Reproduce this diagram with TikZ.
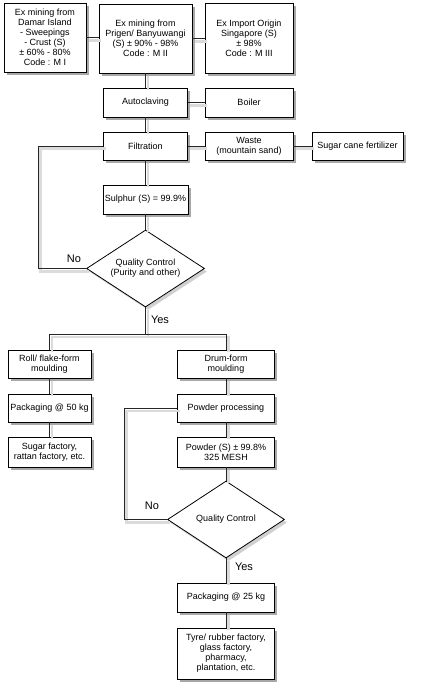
\documentclass[tikz,border=0pt]{standalone}
\usepackage{fontspec}
\setmainfont{Liberation Sans}
\usetikzlibrary{shapes.geometric,shadows}
\begin{document}
\begin{tikzpicture}[x=1pt,y=-1pt,
  shad/.style={drop shadow={shadow xshift=2.5pt, shadow yshift=-3pt, fill=black!45, opacity=0.75}},
  box/.style={draw=black, line width=0.8pt, fill=white, align=center, inner sep=1pt,
    font=\fontsize{9}{10}\selectfont, shad},
  dia/.style={diamond, draw=black, line width=0.8pt, fill=white, align=center, inner sep=0pt,
    aspect=1.53, minimum width=118pt, minimum height=77pt,
    font=\fontsize{9}{10}\selectfont,
    drop shadow={shadow xshift=2.5pt, shadow yshift=-3pt, fill=black!30, opacity=0.6}},
  conn/.style={draw=black!85, line width=0.7pt,
    preaction={draw=black!14, line width=2.6pt, transform canvas={xshift=2.5pt,yshift=-2.8pt}}},
  lab/.style={font=\fontsize{11}{13}\selectfont, inner sep=0pt}]
\useasboundingbox[fill=white] (0,0) rectangle (425,700);

% connector helper coordinates
\coordinate (split) at (145.5,334);
\coordinate (l1) at (38,146);
\coordinate (l2) at (124,408);

% top row
\node[box, minimum width=82pt, minimum height=69pt] (m1) at (45,37.5)
  {Ex mining from\\Damar Island\\- Sweepings\\- Crust (S)\\± 60\% - 80\%\\Code : M I};
\node[box, minimum width=93pt, minimum height=69pt] (m2) at (145.5,38.5)
  {Ex mining from\\Prigen/ Banyuwangi\\(S) ± 90\% - 98\%\\Code : M II};
\node[box, minimum width=88pt, minimum height=70pt] (m3) at (249,38)
  {Ex Import Origin\\Singapore (S)\\± 98\%\\Code : M III};

\node[box, minimum width=84pt, minimum height=29pt] (auto) at (145.5,102.5) {Autoclaving};
\node[box, minimum width=88pt, minimum height=29pt] (boil) at (249,102.5) {Boiler};

\node[box, minimum width=84pt, minimum height=28pt] (filt) at (145.5,146) {Filtration};
\node[box, minimum width=88pt, minimum height=28pt] (waste) at (249,146) {Waste\\(mountain sand)};
\node[box, minimum width=91pt, minimum height=28pt] (cane) at (357.5,146) {Sugar cane fertilizer};

\node[box, minimum width=85pt, minimum height=29pt] (sulph) at (145.5,199.5) {Sulphur (S) = 99.9\%};

\node[dia] (qc1) at (145.5,268.5) {Quality Control\\(Purity and other)};

% left branch
\node[box, minimum width=83pt, minimum height=28pt] (roll) at (49.5,364) {Roll/ flake-form\\moulding};
\node[box, minimum width=83pt, minimum height=28pt] (p50) at (49.5,408) {Packaging @ 50 kg};
\node[box, minimum width=83pt, minimum height=30pt] (sugf) at (49.5,452) {Sugar factory,\\rattan factory, etc.};

% right branch
\node[box, minimum width=97pt, minimum height=28pt] (drum) at (226,364) {Drum-form\\moulding};
\node[box, minimum width=97pt, minimum height=28pt] (pp) at (226,408) {Powder processing};
\node[box, minimum width=97pt, minimum height=30pt] (pows) at (226,452) {Powder (S) ± 99.8\%\\325 MESH};
\node[dia, minimum width=117pt] (qc2) at (226,519.5) {Quality Control};
\node[box, minimum width=97pt, minimum height=29pt] (p25) at (226,597.5) {Packaging @ 25 kg};
\node[box, minimum width=97pt, minimum height=51pt] (tyre) at (226,653.5)
  {Tyre/ rubber factory,\\glass factory,\\pharmacy,\\plantation, etc.};

% labels
\node[lab] (no1) at (74,259) {No};
\node[lab] (yes1) at (160,320) {Yes};
\node[lab] (no2) at (152,506) {No};
\node[lab] (yes2) at (244,567) {Yes};

% connectors
\draw[conn] (m1.east) -- (m1.east -| m2.west);
\draw[conn] (m2.east) -- (m2.east -| m3.west);
\draw[conn] (m2.south) -- (auto.north);
\draw[conn] (auto.east) -- (boil.west);
\draw[conn] (auto.south) -- (filt.north);
\draw[conn] (filt.east) -- (waste.west);
\draw[conn] (waste.east) -- (cane.west);
\draw[conn] (filt.south) -- (sulph.north);
\draw[conn] (sulph.south) -- (qc1.north);
\draw[conn] (filt.west) -- (l1) |- (qc1.west);
\draw[conn] (qc1.south) -- (split);
\draw[conn] (roll.north) -- (roll.north |- split) -- (split -| drum.north) -- (drum.north);
\draw[conn] (roll.south) -- (p50.north);
\draw[conn] (p50.south) -- (sugf.north);
\draw[conn] (drum.south) -- (pp.north);
\draw[conn] (pp.south) -- (pows.north);
\draw[conn] (pows.south) -- (qc2.north);
\draw[conn] (pp.west) -- (l2) |- (qc2.west);
\draw[conn] (qc2.south) -- (p25.north);
\draw[conn] (p25.south) -- (tyre.north);
\end{tikzpicture}
\end{document}
